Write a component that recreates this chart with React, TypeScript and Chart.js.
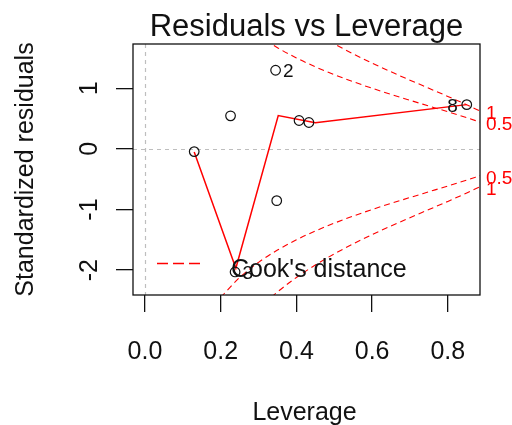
import React, { useEffect, useRef } from "react";
import { Chart, registerables } from "chart.js";

Chart.register(...registerables);

// ---- data ----
const leverage = [0.130, 0.226, 0.238, 0.345, 0.348, 0.407, 0.433, 0.850];
const stdResid = [-0.045, 0.545, -2.03, 1.297, -0.854, 0.468, 0.435, 0.73];

const labelIndex = [3, 2, 7];
const labelText = ["2", "3", "8"];
const labelSide = ["right", "right", "left"];

const smoothX = [0.130, 0.240, 0.352, 0.450, 0.850];
const smoothY = [-0.05, -1.97, 0.55, 0.43, 0.73];

const cookH = [0.20, 0.25, 0.30, 0.35, 0.40, 0.45, 0.50, 0.55, 0.60, 0.65, 0.70, 0.75, 0.80, 0.85, 0.885];
const cookHalf = [2.449, 2.121, 1.871, 1.669, 1.500, 1.354, 1.225, 1.108, 1.000, 0.899, 0.802, 0.707, 0.612, 0.514, 0.442];
const cookOne = [3.464, 3.000, 2.646, 2.360, 2.121, 1.915, 1.732, 1.567, 1.414, 1.271, 1.134, 1.000, 0.866, 0.727, 0.624];
const cookLevels = ["0.5", "1"];

const xTicks = [0.0, 0.2, 0.4, 0.6, 0.8];
const xTickLabels = ["0.0", "0.2", "0.4", "0.6", "0.8"];
const yTicks = [-2, -1, 0, 1];
const yTickLabels = ["-2", "-1", "0", "1"];

const titleText = "Residuals vs Leverage";
const xTitle = "Leverage";
const yTitle = "Standardized residuals";
const legendText = "Cook's distance";

const FONT = "'Liberation Sans', Arial, sans-serif";
const RED = "#ff0000";
const INK = "#111";

const rPlot = {
  id: "rplot",
  beforeDatasetsDraw(chart: any) {
    const { ctx, chartArea: a, scales } = chart;
    const x = scales.x, y = scales.y;
    ctx.save();
    ctx.beginPath();
    ctx.rect(a.left, a.top, a.right - a.left, a.bottom - a.top);
    ctx.clip();
    ctx.strokeStyle = "#bebebe";
    ctx.lineWidth = 1.2;
    ctx.setLineDash([4, 4]);
    const x0 = Math.round(x.getPixelForValue(0)) + 0.5;
    const y0 = Math.round(y.getPixelForValue(0)) + 0.5;
    ctx.beginPath();
    ctx.moveTo(x0, a.top);
    ctx.lineTo(x0, a.bottom);
    ctx.moveTo(a.left, y0);
    ctx.lineTo(a.right, y0);
    ctx.stroke();
    ctx.restore();
  },
  afterDraw(chart: any) {
    const { ctx, chartArea: a, scales } = chart;
    const x = scales.x, y = scales.y;
    ctx.save();
    // box
    ctx.strokeStyle = INK;
    ctx.lineWidth = 1.3;
    ctx.setLineDash([]);
    ctx.strokeRect(a.left, a.top, a.right - a.left, a.bottom - a.top);

    ctx.fillStyle = INK;
    // title
    ctx.font = `31px ${FONT}`;
    ctx.textAlign = "center";
    ctx.textBaseline = "alphabetic";
    ctx.fillText(titleText, (a.left + a.right) / 2, 36);

    // x tick labels
    ctx.font = `25px ${FONT}`;
    xTicks.forEach((v, i) => {
      ctx.fillText(xTickLabels[i], x.getPixelForValue(v), 359);
    });
    // x title
    ctx.fillText(xTitle, (a.left + a.right) / 2 - 2, 420);

    // y tick labels (rotated)
    yTicks.forEach((v, i) => {
      ctx.save();
      ctx.translate(97, y.getPixelForValue(v));
      ctx.rotate(-Math.PI / 2);
      ctx.textAlign = "center";
      ctx.fillText(yTickLabels[i], 0, 0);
      ctx.restore();
    });
    // y title
    ctx.save();
    ctx.translate(33, (a.top + a.bottom) / 2);
    ctx.rotate(-Math.PI / 2);
    ctx.textAlign = "center";
    ctx.fillText(yTitle, 0, 0);
    ctx.restore();

    // point id labels
    ctx.font = `19px ${FONT}`;
    ctx.textBaseline = "middle";
    labelIndex.forEach((idx, i) => {
      const px = x.getPixelForValue(leverage[idx]);
      const py = y.getPixelForValue(stdResid[idx]) + 2;
      if (labelSide[i] === "right") {
        ctx.textAlign = "left";
        ctx.fillText(labelText[i], px + 7.5, py);
      } else {
        ctx.textAlign = "right";
        ctx.fillText(labelText[i], px - 9, py);
      }
    });

    // cook level labels on right margin
    ctx.fillStyle = RED;
    ctx.textAlign = "left";
    const last = cookH.length - 1;
    [cookHalf[last], cookOne[last]].forEach((v, i) => {
      ctx.fillText(cookLevels[i], a.right + 6, y.getPixelForValue(v) + 3);
      ctx.fillText(cookLevels[i], a.right + 6, y.getPixelForValue(-v) + 3);
    });

    // legend
    ctx.strokeStyle = RED;
    ctx.lineWidth = 1.3;
    ctx.setLineDash([11, 5]);
    ctx.beginPath();
    ctx.moveTo(157, 263.5);
    ctx.lineTo(200, 263.5);
    ctx.stroke();
    ctx.setLineDash([]);
    ctx.fillStyle = INK;
    ctx.font = `25px ${FONT}`;
    ctx.textAlign = "left";
    ctx.textBaseline = "alphabetic";
    ctx.fillText(legendText, 231, 276.5);
    ctx.restore();
  },
};

export default function App() {
  const ref = useRef<HTMLCanvasElement>(null);
  useEffect(() => {
    const canvas = ref.current;
    if (!canvas) return;
    const cookDs = (vals: number[], sign: number) => ({
      type: "line" as const,
      data: cookH.map((h, i) => ({ x: h, y: sign * vals[i] })),
      borderColor: RED,
      borderWidth: 1.1,
      borderDash: [6, 4],
      pointRadius: 0,
      fill: false,
      cubicInterpolationMode: "monotone" as const,
    });
    const chart = new Chart(canvas, {
      type: "scatter",
      data: {
        datasets: [
          {
            type: "scatter",
            data: leverage.map((h, i) => ({ x: h, y: stdResid[i] })),
            pointStyle: "circle",
            pointRadius: 4.8,
            borderColor: INK,
            backgroundColor: "rgba(0,0,0,0)",
            borderWidth: 1.2,
          } as any,
          {
            type: "line",
            data: smoothX.map((h, i) => ({ x: h, y: smoothY[i] })),
            borderColor: RED,
            borderWidth: 1.5,
            pointRadius: 0,
            fill: false,
          } as any,
          cookDs(cookHalf, 1) as any,
          cookDs(cookOne, 1) as any,
          cookDs(cookHalf, -1) as any,
          cookDs(cookOne, -1) as any,
        ],
      },
      options: {
        responsive: false,
        animation: false,
        devicePixelRatio: 1,
        layout: { padding: { top: 44, right: 32, left: 0, bottom: 0 } },
        plugins: { legend: { display: false }, tooltip: { enabled: false }, title: { display: false } },
        events: [],
        scales: {
          x: {
            type: "linear",
            position: "bottom",
            min: -0.0317,
            max: 0.885,
            afterBuildTicks: (s: any) => {
              s.ticks = xTicks.map((v) => ({ value: v }));
            },
            afterFit: (s: any) => {
              s.height = 130;
            },
            ticks: { display: false },
            grid: { drawOnChartArea: false, drawTicks: true, tickLength: 17, color: INK, lineWidth: 1.3 },
            border: { display: false },
          },
          y: {
            type: "linear",
            position: "left",
            min: -2.41,
            max: 1.73,
            afterBuildTicks: (s: any) => {
              s.ticks = yTicks.map((v) => ({ value: v }));
            },
            afterFit: (s: any) => {
              s.width = 133;
            },
            ticks: { display: false },
            grid: { drawOnChartArea: false, drawTicks: true, tickLength: 17, color: INK, lineWidth: 1.3 },
            border: { display: false },
          },
        },
      } as any,
      plugins: [rPlot],
    });
    return () => chart.destroy();
  }, []);
  return (
    <div style={{ position: "fixed", left: 0, top: 0, width: 512, height: 425, background: "#fff" }}>
      <canvas ref={ref} width={512} height={425} style={{ display: "block", width: 512, height: 425 }} />
    </div>
  );
}
